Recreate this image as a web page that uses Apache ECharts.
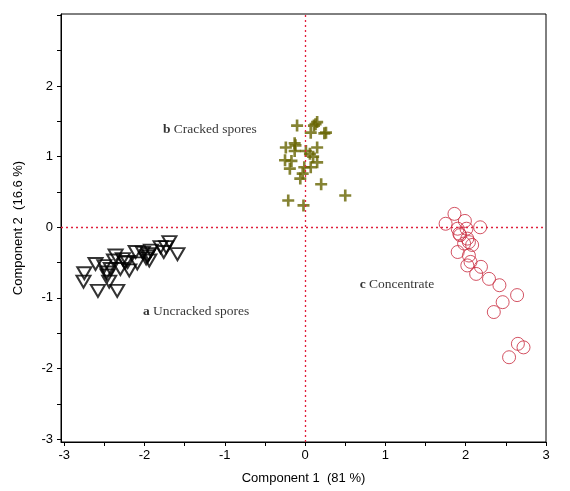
<!DOCTYPE html>
<html><head><meta charset="utf-8">
<script src="https://cdn.jsdelivr.net/npm/echarts@6/dist/echarts.min.js"></script>
<style>html,body{margin:0;padding:0;background:#fff}#c{width:570px;height:491px}</style>
</head><body><div id="c"></div>
<script>
// Uncracked spores (a) — triangles
const uncracked = [
 [-2.75,-0.65],[-2.76,-0.77],[-2.61,-0.52],[-2.58,-0.90],[-2.50,-0.55],[-2.46,-0.68],
 [-2.44,-0.77],[-2.42,-0.59],[-2.34,-0.90],[-2.36,-0.40],[-2.38,-0.47],[-2.30,-0.59],
 [-2.27,-0.45],[-2.21,-0.49],[-2.19,-0.61],[-2.11,-0.35],[-2.09,-0.51],[-2.02,-0.36],
 [-1.96,-0.41],[-1.94,-0.47],[-1.92,-0.33],[-1.80,-0.28],[-1.76,-0.35],[-1.69,-0.21],
 [-1.59,-0.38],[-1.73,-0.28],[-1.98,-0.44],[-2.47,-0.64],[-2.24,-0.50],[-1.95,-0.38]
];
// Cracked spores (b) — crosses
const cracked = [
 [-0.10,1.44],[0.11,1.44],[0.15,1.49],[0.13,1.46],[0.07,1.34],[0.24,1.33],[0.26,1.34],
 [-0.13,1.19],[-0.12,1.16],[-0.24,1.13],[-0.13,1.08],[0.01,1.08],[0.06,1.04],[0.15,1.13],
 [0.10,1.00],[-0.25,0.95],[-0.17,0.94],[0.15,0.92],[0.07,0.85],[-0.01,0.85],[-0.19,0.83],
 [-0.03,0.76],[-0.06,0.69],[0.20,0.61],[0.50,0.45],[-0.21,0.38],[-0.02,0.31]
];
// Concentrate (c) — circles
const concentrate = [
 [1.86,0.19],[1.75,0.05],[1.99,0.09],[1.90,-0.02],[2.01,-0.02],[2.18,0.00],[1.92,-0.09],
 [1.93,-0.11],[2.02,-0.16],[2.04,-0.21],[1.98,-0.23],[2.08,-0.25],[1.90,-0.35],[2.04,-0.40],
 [2.06,-0.49],[2.02,-0.54],[2.19,-0.56],[2.29,-0.73],[2.13,-0.66],[2.42,-0.82],[2.64,-0.96],
 [2.46,-1.06],[2.35,-1.20],[2.65,-1.65],[2.72,-1.70],[2.54,-1.84]
];
// Group annotations: [x, y, letter, name]
const annotations = [
 [-1.77, 1.39, 'b', 'Cracked spores'],
 [-2.02, -1.19, 'a', 'Uncracked spores'],
 [0.68, -0.81, 'c', 'Concentrate']
];
const xTicks = [-3,-2.5,-2,-1.5,-1,-0.5,0,0.5,1,1.5,2,2.5,3];
const xLabels = [-3,-2,-1,0,1,2,3];
const yTicks = [-3,-2.5,-2,-1.5,-1,-0.5,0,0.5,1,1.5,2,2.5,3];
const yLabels = [-3,-2,-1,0,1,2];
const refLines = [0, 0]; // x = 0 and y = 0 reference lines
const xName = 'Component 1  (81 %)';
const yName = 'Component 2  (16.6 %)';

const refStyle = {color:'#e0203c', type:[2,3], width:1.3, opacity:1};
const chart = echarts.init(document.getElementById('c'), null, {renderer:'canvas'});
const axisFont = {fontFamily:'Liberation Sans, Arial', fontSize:13, color:'#000'};
chart.setOption({
  animation:false,
  backgroundColor:'#fff',
  grid:{left:61,right:24,top:14,bottom:49,show:true,borderColor:'#000',borderWidth:1,backgroundColor:'transparent'},
  xAxis:{type:'value',min:-3.04,max:3,
    splitLine:{show:false},
    axisLine:{onZero:false,lineStyle:{color:'#000',width:1}},
    axisTick:{customValues:xTicks,length:4,inside:false,lineStyle:{color:'#000'}},
    axisLabel:Object.assign({customValues:xLabels,margin:7},axisFont),
    name:xName,nameLocation:'middle',nameGap:30,
    nameTextStyle:{fontFamily:'Liberation Sans, Arial',fontSize:13,color:'#000'}
  },
  yAxis:{type:'value',min:-3.04,max:3.02,
    splitLine:{show:false},
    axisLine:{onZero:false,lineStyle:{color:'#000',width:1}},
    axisTick:{customValues:yTicks,length:4,inside:false,lineStyle:{color:'#000'}},
    axisLabel:Object.assign({customValues:yLabels,margin:8},axisFont),
    name:yName,nameLocation:'middle',nameGap:36,
    nameTextStyle:{fontFamily:'Liberation Sans, Arial',fontSize:13,color:'#000'}
  },
  series:[
    {type:'scatter',name:'ref',data:[],z:1,
     markLine:{symbol:'none',label:{show:false},
       lineStyle:refStyle,
       data:[{xAxis:refLines[0]},{yAxis:refLines[1]}]}
    },
    {type:'scatter',name:'a',data:uncracked,symbol:'triangle',symbolRotate:180,symbolSize:[14,12],z:3,
     itemStyle:{color:'rgba(255,255,255,0)',borderColor:'#000',borderWidth:2}},
    {type:'scatter',name:'b',data:cracked,z:3,
     symbol:'path://M3.9,0H6.1V3.9H10V6.1H6.1V10H3.9V6.1H0V3.9H3.9Z',symbolSize:12,
     itemStyle:{color:'#666400'}},
    {type:'scatter',name:'c',data:concentrate,symbol:'circle',symbolSize:13,z:3,
     itemStyle:{color:'rgba(255,255,255,0)',borderColor:'#c8283c',borderWidth:1}},
    {type:'scatter',name:'ann',silent:true,symbolSize:0,
     data:annotations.map(a=>({value:[a[0],a[1]],letter:a[2],text:a[3]})),
     label:{show:true,position:'right',distance:0,
       formatter:p=>'{b|'+p.data.letter+'} '+p.data.text,
       fontFamily:'Liberation Serif, Times New Roman',fontSize:13.5,color:'#000',
       rich:{b:{fontWeight:'bold',fontFamily:'Liberation Serif, Times New Roman',fontSize:13.5,color:'#000'}}}
    }
  ]
});
</script></body></html>
